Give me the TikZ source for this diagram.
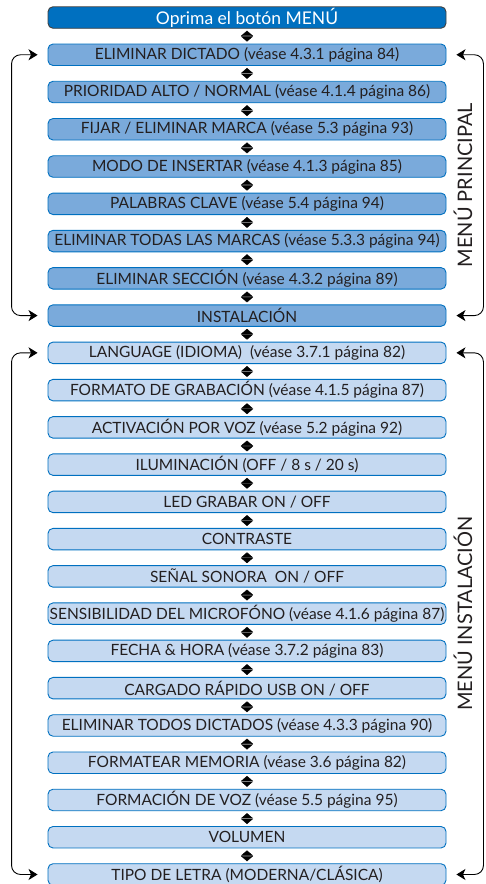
\documentclass[tikz,border=0pt]{standalone}
\usepackage{fontspec}
\setmainfont{Lato}
\usetikzlibrary{arrows.meta}

\definecolor{philblue}{RGB}{0,112,192}
\definecolor{mainfill}{RGB}{122,170,219}
\definecolor{instfill}{RGB}{197,217,241}
\definecolor{txt}{RGB}{35,31,32}

\tikzset{
  menubox/.style={draw=philblue, line width=0.9pt, rounded corners=5pt,
    minimum width=398pt, minimum height=21.5pt, inner sep=0pt,
    text=txt, font=\fontsize{15.5}{15.5}\selectfont},
  topbox/.style={menubox, fill=philblue, draw=black!75, text=white,
    font=\fontsize{17.5}{17.5}\selectfont},
  mainbox/.style={menubox, fill=mainfill},
  instbox/.style={menubox, fill=instfill},
  updown/.style={white, shorten <=2pt, shorten >=2pt,
    {Triangle[length=5.2pt,width=12pt,color=black]}-{Triangle[length=5.2pt,width=12pt,color=black]}},
  menuloop/.style={line width=0.9pt, rounded corners=9pt,
    {Stealth[length=9pt,width=11pt,inset=2.5pt]}-{Stealth[length=9pt,width=11pt,inset=2.5pt]}},
  sidelabel/.style={rotate=90, text=txt, font=\fontsize{20}{20}\selectfont}
}

\begin{document}
\begin{tikzpicture}[x=1pt,y=-1pt]
\useasboundingbox (0,0) rectangle (486,884);

\node [topbox] (b0) at (247,17.5) {Oprima el botón MENÚ};

% menu principal
\node [mainbox] (b1) at (247,54.76) {ELIMINAR DICTADO (véase 4.3.1 página 84)};
\node [mainbox] (b2) at (247,92.02) {PRIORIDAD ALTO / NORMAL (véase 4.1.4 página 86)};
\node [mainbox] (b3) at (247,129.28) {FIJAR / ELIMINAR MARCA (véase 5.3 página 93)};
\node [mainbox] (b4) at (247,166.54) {MODO DE INSERTAR (véase 4.1.3 página 85)};
\node [mainbox] (b5) at (247,203.8) {PALABRAS CLAVE (véase 5.4 página 94)};
\node [mainbox] (b6) at (247,241.06) {ELIMINAR TODAS LAS MARCAS (véase 5.3.3 página 94)};
\node [mainbox] (b7) at (247,278.32) {ELIMINAR SECCIÓN (véase 4.3.2 página 89)};
\node [mainbox] (b8) at (247,315.58) {INSTALACIÓN};

% menu instalacion
\node [instbox] (b9) at (247,352.84) {LANGUAGE (IDIOMA)\ \ (véase 3.7.1 página 82)};
\node [instbox] (b10) at (247,390.1) {FORMATO DE GRABACIÓN (véase 4.1.5 página 87)};
\node [instbox] (b11) at (247,427.36) {ACTIVACIÓN POR VOZ (véase 5.2 página 92)};
\node [instbox] (b12) at (247,464.62) {ILUMINACIÓN (OFF / 8 s / 20 s)};
\node [instbox] (b13) at (247,501.88) {LED GRABAR ON / OFF};
\node [instbox] (b14) at (247,539.14) {CONTRASTE};
\node [instbox] (b15) at (247,576.4) {SEÑAL SONORA\ \ ON / OFF};
\node [instbox] (b16) at (247,613.66) {SENSIBILIDAD DEL MICROFÓNO (véase 4.1.6 página 87)};
\node [instbox] (b17) at (247,650.92) {FECHA \& HORA (véase 3.7.2 página 83)};
\node [instbox] (b18) at (247,688.18) {CARGADO RÁPIDO USB ON / OFF};
\node [instbox] (b19) at (247,725.44) {ELIMINAR TODOS DICTADOS (véase 4.3.3 página 90)};
\node [instbox] (b20) at (247,762.7) {FORMATEAR MEMORIA (véase 3.6 página 82)};
\node [instbox] (b21) at (247,799.96) {FORMACIÓN DE VOZ (véase 5.5 página 95)};
\node [instbox] (b22) at (247,837.22) {VOLUMEN};
\node [instbox] (b23) at (247,874.48) {TIPO DE LETRA (MODERNA/CLÁSICA)};

\draw [updown] (b0.south)--(b1.north);
\draw [updown] (b1.south)--(b2.north);
\draw [updown] (b2.south)--(b3.north);
\draw [updown] (b3.south)--(b4.north);
\draw [updown] (b4.south)--(b5.north);
\draw [updown] (b5.south)--(b6.north);
\draw [updown] (b6.south)--(b7.north);
\draw [updown] (b7.south)--(b8.north);
\draw [updown] (b8.south)--(b9.north);
\draw [updown] (b9.south)--(b10.north);
\draw [updown] (b10.south)--(b11.north);
\draw [updown] (b11.south)--(b12.north);
\draw [updown] (b12.south)--(b13.north);
\draw [updown] (b13.south)--(b14.north);
\draw [updown] (b14.south)--(b15.north);
\draw [updown] (b15.south)--(b16.north);
\draw [updown] (b16.south)--(b17.north);
\draw [updown] (b17.south)--(b18.north);
\draw [updown] (b18.south)--(b19.north);
\draw [updown] (b19.south)--(b20.north);
\draw [updown] (b20.south)--(b21.north);
\draw [updown] (b21.south)--(b22.north);
\draw [updown] (b22.south)--(b23.north);

% loops
\draw [menuloop] ([xshift=-10pt]b1.west) -- ([xshift=-36pt]b1.west) |- ([xshift=-10pt]b8.west);
\draw [menuloop] ([xshift=10pt]b1.east) -- ([xshift=37pt]b1.east) |- ([xshift=10pt]b8.east);
\draw [menuloop] ([xshift=-10pt]b9.west) -- ([xshift=-36pt]b9.west) |- ([xshift=-10pt]b23.west);
\draw [menuloop] ([xshift=10pt]b9.east) -- ([xshift=37pt]b9.east) |- ([xshift=10pt]b23.east);

\node [sidelabel] (lmain) at (463,185.17) {MENÚ PRINCIPAL};
\node [sidelabel] (linst) at (463,613.66) {MENÚ INSTALACIÓN};
\end{tikzpicture}
\end{document}
